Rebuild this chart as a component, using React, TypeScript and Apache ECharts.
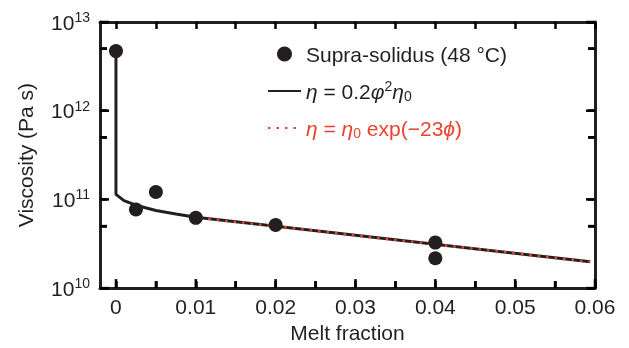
import React, { useEffect, useRef } from "react";
import * as echarts from "echarts";

// Measured data (supra-solidus, 48 °C)
const pointX = [0, 0.0025, 0.005, 0.01, 0.02, 0.04, 0.04];
const pointY = [4.7e12, 7.7e10, 1.21e11, 6.2e10, 5.14e10, 3.26e10, 2.17e10];

// Model curve η = 0.2φ²η0
const modelX = [0, 0, 0.001, 0.0025, 0.005, 0.0075, 0.01, 0.0594];
const modelY = [4.7e12, 1.14e11, 9.7e10, 8.6e10, 7.5e10, 6.85e10, 6.3e10, 1.98e10];

// Exponential fit η = η0 exp(−23ϕ)
const expX = [0.0105, 0.0594];
const expY = [6.2e10, 1.98e10];

// Axis ranges, ticks and tick labels
const xRange = [-0.002, 0.06];
const yRange = [1e10, 1e13];
const xTicks = [0, 0.005, 0.01, 0.015, 0.02, 0.025, 0.03, 0.035, 0.04, 0.045, 0.05, 0.055, 0.06];
const xLabelValues = [0, 0.01, 0.02, 0.03, 0.04, 0.05, 0.06];
const xLabelTexts = ["0", "0.01", "0.02", "0.03", "0.04", "0.05", "0.06"];
const yTicks = [1e10, 5e10, 1e11, 5e11, 1e12, 5e12, 1e13];
const yLabelValues = [1e10, 1e11, 1e12, 1e13];
const yLabelExponents = ["10", "11", "12", "13"];

const NAME_PTS = "Supra-solidus (48 °C)";
const NAME_MODEL = "η = 0.2φ²η₀";
const NAME_EXP = "η = η₀ exp(−23ϕ)";

const FONT = "'Liberation Sans', Arial, Helvetica, sans-serif";
const INK = "#231f20";
const RED = "#e8452c";

export default function App() {
  const ref = useRef<HTMLDivElement>(null);
  useEffect(() => {
    if (!ref.current) return;
    const chart = echarts.init(ref.current, undefined, { renderer: "svg" });
    const isXMajor = (v: number) => xLabelValues.some((m) => Math.abs(m - v) < 1e-9);
    const isYMajor = (v: number) => yLabelValues.some((m) => Math.abs(Math.log10(m) - Math.log10(v)) < 1e-6);
    const xFmt = (v: number) => {
      let best = 0;
      for (let i = 1; i < xLabelValues.length; i++) {
        if (Math.abs(xLabelValues[i] - v) < Math.abs(xLabelValues[best] - v)) best = i;
      }
      return xLabelTexts[best];
    };
    const yFmt = (v: number) => {
      let best = 0;
      for (let i = 1; i < yLabelValues.length; i++) {
        if (Math.abs(Math.log10(yLabelValues[i]) - Math.log10(v)) < Math.abs(Math.log10(yLabelValues[best]) - Math.log10(v))) best = i;
      }
      return `{b|10}{e|${yLabelExponents[best]}}`;
    };
    const option: any = {
      animation: false,
      grid: { left: 100, right: 34, top: 22, bottom: 59, containLabel: false },
      xAxis: [
        {
          type: "value", position: "bottom", min: xRange[0], max: xRange[1],
          axisLine: { show: true, lineStyle: { color: INK, width: 3 }, onZero: false },
          axisTick: { show: true, inside: true, length: 7, customValues: xTicks, lineStyle: { color: "black", width: 2.5 } },
          axisLabel: { show: true, margin: 8, fontSize: 21, fontFamily: FONT, color: INK, customValues: xLabelValues, formatter: xFmt },
          splitLine: { show: false },
          name: "Melt fraction", nameLocation: "middle", nameGap: 33,
          nameTextStyle: { fontSize: 21, fontFamily: FONT, color: INK },
        },
        {
          type: "value", position: "top", min: xRange[0], max: xRange[1],
          axisLine: { show: true, lineStyle: { color: INK, width: 3 }, onZero: false },
          axisTick: { show: true, inside: true, length: 7, customValues: xTicks, lineStyle: { color: "black", width: 2.5 } },
          axisLabel: { show: false }, splitLine: { show: false },
        },
      ],
      yAxis: [
        {
          type: "log", logBase: 10, position: "left", min: yRange[0], max: yRange[1],
          axisLine: { show: true, lineStyle: { color: INK, width: 3 }, onZero: false },
          axisTick: { show: true, inside: true, length: 7, customValues: yTicks, lineStyle: { color: "black", width: 2.5 } },
          axisLabel: {
            show: true, margin: 10, fontFamily: FONT, color: INK, customValues: yLabelValues,
            formatter: yFmt,
            rich: {
              b: { fontSize: 21, lineHeight: 24, fontFamily: FONT, color: INK },
              e: { fontSize: 14, lineHeight: 14, verticalAlign: "top", fontFamily: FONT, color: INK },
            },
          },
          splitLine: { show: false },
          name: "Viscosity (Pa s)", nameLocation: "middle", nameGap: 64,
          nameTextStyle: { fontSize: 21, fontFamily: FONT, color: INK },
        },
        {
          type: "log", logBase: 10, position: "right", min: yRange[0], max: yRange[1],
          axisLine: { show: true, lineStyle: { color: INK, width: 3 }, onZero: false },
          axisTick: { show: true, inside: true, length: 7, customValues: yTicks, lineStyle: { color: "black", width: 2.5 } },
          axisLabel: { show: false }, splitLine: { show: false },
        },
      ],
      legend: {
        orient: "vertical", left: 267, top: 42, padding: 0,
        itemWidth: 33, itemHeight: 15, itemGap: 13, itemTextGap: 13,
        textStyle: {
          fontSize: 21, fontFamily: FONT, color: INK, lineHeight: 24,
          rich: {
            i: { fontStyle: "italic", fontSize: 21, lineHeight: 24, fontFamily: FONT, color: INK },
            sup: { fontSize: 14, lineHeight: 14, verticalAlign: "top", fontFamily: FONT, color: INK },
            sub: { fontSize: 14, lineHeight: 14, verticalAlign: "bottom", fontFamily: FONT, color: INK },
            r: { fontSize: 21, lineHeight: 24, fontFamily: FONT, color: RED },
            ri: { fontStyle: "italic", fontSize: 21, lineHeight: 24, fontFamily: FONT, color: RED },
            rsub: { fontSize: 14, lineHeight: 14, verticalAlign: "bottom", fontFamily: FONT, color: RED },
          },
        },
        formatter: (name: string) => {
          if (name === NAME_MODEL) return "{i|η} = 0.2{i|φ}{sup|2}{i|η}{sub|0}";
          if (name === NAME_EXP) return "{ri|η}{r| = }{ri|η}{rsub|0}{r| exp(−23}{ri|ϕ}{r|)}";
          return name;
        },
        data: [
          { name: NAME_PTS, icon: "circle" },
          { name: NAME_MODEL, itemStyle: { opacity: 0 } },
          { name: NAME_EXP, itemStyle: { opacity: 0 }, textStyle: { color: RED } },
        ],
      },
      series: [
        {
          name: NAME_MODEL, type: "line", z: 2,
          data: modelX.map((x, i) => [x, modelY[i]]),
          symbol: "none", showSymbol: false, smooth: false,
          lineStyle: { color: INK, width: 3 }, itemStyle: { color: INK },
        },
        {
          name: NAME_EXP, type: "line", z: 3,
          data: expX.map((x, i) => [x, expY[i]]),
          symbol: "none", showSymbol: false,
          lineStyle: { color: RED, width: 2.5, type: [2.5, 6] }, itemStyle: { color: RED },
        },
        {
          name: NAME_PTS, type: "scatter", z: 5,
          data: pointX.map((x, i) => [x, pointY[i]]),
          symbol: "circle", symbolSize: 14,
          itemStyle: { color: INK, opacity: 1 },
        },
        {
          // longer tick marks at the labelled x values (bottom)
          type: "custom", clip: false, z: 10,
          data: xTicks.map((v) => [v, yRange[0]]),
          renderItem: (_p: any, api: any) => {
            const v = api.value(0);
            const b = api.coord([v, yRange[0]]);
            const len = isXMajor(v) ? 9 : 7;
            return { type: "line", shape: { x1: b[0], y1: b[1], x2: b[0], y2: b[1] - len }, style: { stroke: "black", lineWidth: 2.5 } };
          },
        },
        {
          // longer tick marks at the decades (left and right)
          type: "custom", clip: false, z: 10,
          data: yTicks.map((v) => [xRange[0], v]),
          renderItem: (_p: any, api: any) => {
            const v = api.value(1);
            const l = api.coord([xRange[0], v]);
            const r = api.coord([xRange[1], v]);
            const len = isYMajor(v) ? 9 : 7;
            return {
              type: "group",
              children: [
                { type: "line", shape: { x1: l[0], y1: l[1], x2: l[0] + len, y2: l[1] }, style: { stroke: "black", lineWidth: 2.5 } },
                { type: "line", shape: { x1: r[0], y1: r[1], x2: r[0] - len, y2: r[1] }, style: { stroke: "black", lineWidth: 2.5 } },
              ],
            };
          },
        },
      ],
    };
    chart.setOption(option);
    return () => chart.dispose();
  }, []);
  return <div ref={ref} style={{ position: "fixed", left: 0, top: 0, width: 629, height: 348 }} />;
}
